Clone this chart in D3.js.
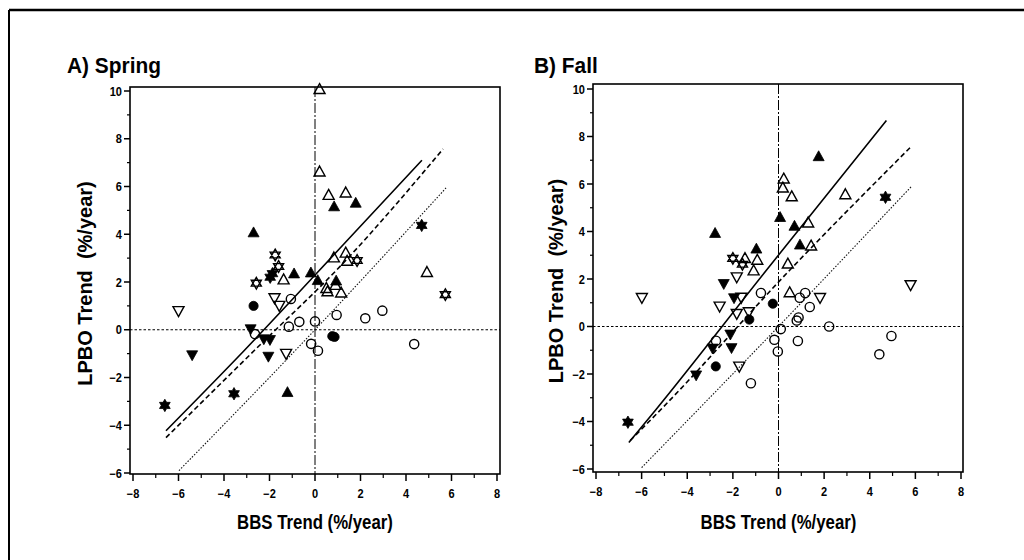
<!DOCTYPE html>
<html>
<head>
<meta charset="utf-8">
<script src="https://cdn.jsdelivr.net/npm/d3@7/dist/d3.min.js"></script>
<style>
  html, body { margin: 0; padding: 0; background: #fff; }
  svg { display: block; }
  text { font-family: "Liberation Sans", Arial, Helvetica, sans-serif; font-weight: bold; }
  .tick-label { font-size: 12px; }
  .panel-title { font-size: 22px; }
  .x-title { font-size: 20px; }
  .y-title { font-size: 20px; }
</style>
</head>
<body>
<svg id="chart" width="1024" height="560"></svg>
<script>
// Axis ticks shared by both panels
const xTicks = [-8, -6, -4, -2, 0, 2, 4, 6, 8];
const yTicks = [-6, -4, -2, 0, 2, 4, 6, 8, 10];
const xMinor = [-7, -5, -3, -1, 1, 3, 5, 7];
const yMinor = [-5, -3, -1, 1, 3, 5, 7, 9];

// Species trends: [BBS trend, LPBO trend, symbol]
// tu/fu = open/filled triangle up, td/fd = open/filled triangle down,
// oc/fc = open/filled circle, os/fs = open/filled six-point star
const springPoints = [
  [0.2, 10.05, "tu"], [0.2, 6.6, "tu"], [0.6, 5.62, "tu"], [1.35, 5.72, "tu"],
  [0.84, 5.14, "fu"], [1.79, 5.29, "fu"], [-2.7, 4.05, "fu"],
  [-1.75, 3.13, "os"], [-1.6, 2.65, "os"], [-2.58, 1.95, "os"],
  [-1.97, 2.2, "fs"], [-1.87, 2.35, "fs"],
  [-1.38, 2.08, "tu"], [-0.92, 2.33, "fu"], [-0.18, 2.37, "fu"], [0.12, 2.05, "fu"],
  [0.83, 3.0, "tu"], [1.35, 3.2, "tu"], [1.41, 2.86, "tu"], [1.85, 2.9, "os"],
  [0.93, 2.03, "fu"], [0.9, 1.85, "tu"], [0.5, 1.72, "tu"], [0.55, 1.58, "tu"], [1.15, 1.53, "tu"],
  [-6.0, 0.81, "td"], [-2.7, 1.0, "fc"], [-1.78, 1.35, "td"], [-1.57, 1.03, "td"],
  [-1.06, 1.29, "oc"], [-0.69, 0.33, "oc"], [-1.15, 0.13, "oc"], [0.0, 0.35, "oc"],
  [0.95, 0.62, "oc"], [2.21, 0.48, "oc"], [2.96, 0.8, "oc"], [-0.17, -0.59, "oc"],
  [0.13, -0.88, "oc"], [0.76, -0.27, "fc"], [0.86, -0.3, "fc"], [4.36, -0.6, "oc"],
  [4.69, 4.37, "fs"], [4.92, 2.39, "tu"], [5.73, 1.47, "os"],
  [-2.83, 0.05, "fd"], [-2.64, -0.18, "oc"], [-2.25, -0.37, "fd"], [-1.98, -0.4, "fd"],
  [-2.05, -1.1, "fd"], [-5.4, -1.04, "fd"], [-1.27, -0.98, "td"], [-1.21, -2.64, "fu"],
  [-3.56, -2.68, "fs"], [-6.6, -3.17, "fs"]
];

const fallPoints = [
  [1.76, 7.14, "fu"], [0.23, 6.2, "tu"], [0.19, 5.82, "tu"], [0.58, 5.45, "tu"],
  [2.93, 5.54, "tu"], [4.69, 5.44, "fs"], [0.07, 4.58, "fu"], [0.7, 4.21, "fu"],
  [1.3, 4.35, "tu"], [0.94, 3.42, "fu"], [1.43, 3.38, "tu"], [0.41, 2.62, "tu"],
  [-2.78, 3.91, "fu"], [-2.0, 2.87, "os"], [-0.97, 3.25, "fu"], [-1.47, 2.85, "tu"],
  [-1.58, 2.62, "os"], [-0.93, 2.78, "tu"], [-1.09, 2.33, "tu"], [-1.83, 2.1, "td"],
  [-2.4, 1.82, "fd"], [-5.99, 1.23, "td"], [-1.95, 1.22, "fd"], [-1.63, 1.24, "td"],
  [-2.58, 0.87, "td"], [-1.83, 0.56, "td"], [-1.3, 0.63, "td"], [-1.28, 0.29, "fc"],
  [-0.77, 1.41, "oc"], [-0.25, 0.96, "fc"], [0.49, 1.41, "tu"], [0.93, 1.21, "oc"],
  [1.17, 1.41, "oc"], [1.82, 1.23, "td"], [1.37, 0.82, "oc"], [0.88, 0.38, "oc"],
  [0.8, 0.25, "oc"], [0.1, -0.11, "oc"], [2.22, 0.0, "oc"], [-0.18, -0.56, "oc"],
  [0.85, -0.61, "oc"], [-0.03, -1.05, "oc"], [4.95, -0.4, "oc"], [4.42, -1.17, "oc"],
  [5.79, 1.77, "td"], [-1.21, -2.39, "oc"], [-1.72, -1.66, "td"], [-2.75, -1.68, "fc"],
  [-3.61, -2.03, "fd"], [-2.89, -0.9, "fd"], [-2.74, -0.6, "oc"], [-2.06, -0.88, "fd"],
  [-2.11, -0.31, "fd"], [-6.6, -4.03, "fs"]
];

// Fitted relationships and the 1:1 line
const springSolid = [[-6.55, -4.23], [-3.12, -0.88], [1.27, 3.59], [4.7, 7.1]];
const springDashed = [[-6.55, -4.52], [-2.68, -0.88], [1.27, 2.82], [5.63, 7.57]];
const springDotted = [[-5.98, -5.9], [0, 0], [5.76, 5.94]];
const fallSolid = [[-6.56, -4.88], [-5.35, -3.47], [-0.54, 2.36], [4.73, 8.67]];
const fallDashed = [[-6.5, -4.8], [-5.06, -3.4], [0.48, 2.36], [5.82, 7.58]];
const fallDotted = [[-6.0, -5.94], [0, 0], [5.82, 5.89]];

const panels = [
  { title: "A) Spring", pts: springPoints, solid: springSolid, dashed: springDashed, dotted: springDotted,
    frame: [130, 87, 500, 474], xr: [133, 497], yr: [473, 91], titleX: 67, yTitleX: 92 },
  { title: "B) Fall", pts: fallPoints, solid: fallSolid, dashed: fallDashed, dotted: fallDotted,
    frame: [593, 84, 963, 472], xr: [596, 961], yr: [469, 89], titleX: 534, yTitleX: 563 }
];

const svg = d3.select("#chart");

// outer border
svg.append("line").attr("x1", 9).attr("x2", 1024).attr("y1", 10).attr("y2", 10)
  .attr("stroke", "#000").attr("stroke-width", 2.5);
svg.append("line").attr("x1", 9).attr("x2", 9).attr("y1", 10).attr("y2", 560)
  .attr("stroke", "#000").attr("stroke-width", 2);

// text placed at (tx, ty) and squeezed horizontally
function narrowText(sel, cls, tx, ty, sx, anchor, str) {
  return sel.append("text").attr("class", cls)
    .attr("transform", `translate(${tx},${ty}) scale(${sx},1)`)
    .attr("text-anchor", anchor).text(str);
}
const fmt = d => d < 0 ? "\u2212" + Math.abs(d) : String(d);

function triPath(s, down) {
  const h = s * 0.9, w = s;
  const d = down ? -1 : 1;
  return `M0,${-d * h * 0.62}L${w / 2},${d * h * 0.38}L${-w / 2},${d * h * 0.38}Z`;
}
function hexagram(r) {
  const pts = [];
  for (let i = 0; i < 12; i++) {
    const a = -Math.PI / 2 + i * Math.PI / 6;
    const rr = i % 2 === 0 ? r : r * 0.577;
    pts.push([rr * Math.cos(a), rr * Math.sin(a)]);
  }
  return "M" + pts.map(p => p.join(",")).join("L") + "Z";
}
function twoTriangles(r) {
  const t = (off) => {
    const p = [0, 1, 2].map(k => {
      const a = off + k * 2 * Math.PI / 3;
      return [r * Math.cos(a), r * Math.sin(a)];
    });
    return "M" + p.map(q => q.join(",")).join("L") + "Z";
  };
  return t(-Math.PI / 2) + t(Math.PI / 2);
}

panels.forEach(p => {
  const g = svg.append("g");
  const x = d3.scaleLinear().domain([-8, 8]).range(p.xr);
  const y = d3.scaleLinear().domain([-6, 10]).range(p.yr);
  const [fx0, fy0, fx1, fy1] = p.frame;

  // frame
  g.append("rect").attr("x", fx0).attr("y", fy0).attr("width", fx1 - fx0).attr("height", fy1 - fy0)
    .attr("fill", "none").attr("stroke", "#000").attr("stroke-width", 1.6);

  // x axis ticks (outside, below)
  const xAxis = g.append("g").attr("transform", `translate(0,${fy1})`);
  xAxis.selectAll("line.major").data(xTicks).join("line")
    .attr("x1", d => x(d)).attr("x2", d => x(d)).attr("y1", 0).attr("y2", 7)
    .attr("stroke", "#000").attr("stroke-width", 1.5);
  xAxis.selectAll("line.minor").data(xMinor).join("line")
    .attr("x1", d => x(d)).attr("x2", d => x(d)).attr("y1", 0).attr("y2", 4)
    .attr("stroke", "#000").attr("stroke-width", 1.2);
  xTicks.forEach(d => narrowText(xAxis, "tick-label", x(d), 24, 0.92, "middle", fmt(d)));

  // y axis ticks (outside, left)
  const yAxis = g.append("g").attr("transform", `translate(${fx0},0)`);
  yAxis.selectAll("line.major").data(yTicks).join("line")
    .attr("x1", -6).attr("x2", 0).attr("y1", d => y(d)).attr("y2", d => y(d))
    .attr("stroke", "#000").attr("stroke-width", 1.5);
  yAxis.selectAll("line.minor").data(yMinor).join("line")
    .attr("x1", -3).attr("x2", 0).attr("y1", d => y(d)).attr("y2", d => y(d))
    .attr("stroke", "#000").attr("stroke-width", 1.2);
  yTicks.forEach(d => narrowText(yAxis, "tick-label", -8, y(d) + 4.5, 0.92, "end", fmt(d)));

  // reference lines at zero
  g.append("line").attr("x1", fx0).attr("x2", fx1).attr("y1", y(0)).attr("y2", y(0))
    .attr("stroke", "#000").attr("stroke-width", 1).attr("stroke-dasharray", "2.5,2");
  g.append("line").attr("x1", x(0)).attr("x2", x(0)).attr("y1", fy0).attr("y2", fy1)
    .attr("stroke", "#000").attr("stroke-width", 1).attr("stroke-dasharray", "10,2,2,2");

  // fitted lines
  const line = d3.line().x(d => x(d[0])).y(d => y(d[1])).curve(d3.curveMonotoneX);
  g.append("path").attr("d", line(p.dotted)).attr("fill", "none")
    .attr("stroke", "#111").attr("stroke-width", 1.1).attr("stroke-dasharray", "1.5,1.6");
  g.append("path").attr("d", line(p.dashed)).attr("fill", "none")
    .attr("stroke", "#000").attr("stroke-width", 1.6).attr("stroke-dasharray", "5,3");
  g.append("path").attr("d", line(p.solid)).attr("fill", "none")
    .attr("stroke", "#000").attr("stroke-width", 1.6);

  // markers
  const sym = g.append("g");
  p.pts.forEach(([vx, vy, s]) => {
    const cx = x(vx), cy = y(vy);
    const m = sym.append("g").attr("transform", `translate(${cx},${cy})`);
    const filled = s[0] === "f";
    const shape = s[1];
    let el;
    if (shape === "u" || shape === "d") {
      el = m.append("path").attr("d", triPath(11, shape === "d"));
    } else if (shape === "c") {
      el = m.append("circle").attr("r", 4.6);
    } else {
      el = m.append("path").attr("d", filled ? hexagram(6.2) : twoTriangles(5.8));
    }
    el.attr("fill", filled ? "#000" : "#fff")
      .attr("fill-opacity", filled ? 1 : 0)
      .attr("stroke", "#000").attr("stroke-width", filled ? 0.8 : 1.4)
      .attr("stroke-linejoin", "miter");
  });

  // titles
  narrowText(g, "panel-title", p.titleX, 73, 0.95, "start", p.title);
  narrowText(g, "x-title", (p.xr[0] + p.xr[1]) / 2, 529, 0.84, "middle", "BBS Trend (%/year)");
  g.append("text").attr("class", "y-title")
    .attr("transform", `translate(${p.yTitleX},${(fy0 + fy1) / 2 + 3}) rotate(-90)`)
    .attr("text-anchor", "middle")
    .attr("xml:space", "preserve")
    .text("LPBO Trend  (%/year)");
});
</script>
</body>
</html>
